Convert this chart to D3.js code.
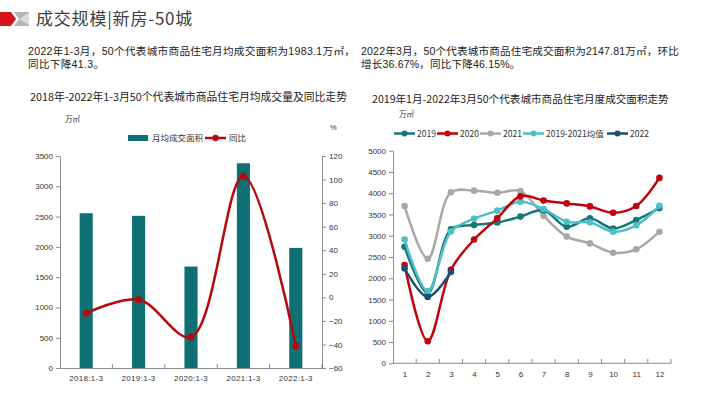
<!DOCTYPE html>
<html>
  <head>
    <meta charset="utf-8">
    <title>成交规模|新房-50城</title>
    <style>
    body{
      margin: 0;
      background-color: #fff;
    }
    svg text{
      font-family: "Liberation Sans", "Noto Sans CJK SC", sans-serif;
      fill: #333;
    }
    .cjk{
      font-family: "Noto Sans CJK SC", "Liberation Sans", sans-serif;
    }
    </style>
    <script src="https://cdn.jsdelivr.net/npm/d3@7"></script>
  </head>
  <body>
    <div id="container"></div>
    <script>
    //page size
    const width = 710,
          height = 399;

    //left chart: monthly average area (万㎡) and yoy (%)
    var periods = ["2018:1-3", "2019:1-3", "2020:1-3", "2021:1-3", "2022:1-3"];
    var avgArea = [2555, 2512, 1675, 3380, 1983.1];
    var yoy = [-13.6, -1.9, -33.7, 102.8, -41.3];
    var leftTicks = [0, 500, 1000, 1500, 2000, 2500, 3000, 3500];
    var rightTicks = [-60, -40, -20, 0, 20, 40, 60, 80, 100, 120];

    //right chart: monthly area by year (万㎡)
    var months = [1, 2, 3, 4, 5, 6, 7, 8, 9, 10, 11, 12];
    var s2019 = [2740, 1650, 3150, 3250, 3310, 3450, 3600, 3210, 3410, 3170, 3370, 3650];
    var s2020 = [2310, 520, 2200, 2910, 3410, 3930, 3830, 3760, 3690, 3540, 3700, 4360];
    var s2021 = [3700, 2460, 4020, 4060, 4010, 4050, 3470, 2980, 2820, 2600, 2680, 3095];
    var sAvg = [2910, 1700, 3100, 3400, 3590, 3800, 3630, 3330, 3315, 3095, 3245, 3705];
    var s2022 = [2230, 1560, 2147.81];
    var monthTicks = [0, 500, 1000, 1500, 2000, 2500, 3000, 3500, 4000, 4500, 5000];

    var svg = d3.select("#container")
      .append("svg")
      .attr("width", width)
      .attr("height", height);

    //header mark
    svg.append("polygon")
      .attr("points", "0,12 11,12 16,19 11,26 0,26")
      .attr("fill", "#d7141a");
    svg.append("polygon")
      .attr("points", "14,12 29,12 29,26 14,26 19,19")
      .attr("fill", "#b5b5b5");
    svg.append("polygon")
      .attr("points", "19,19 29,13 29,25")
      .attr("fill", "#dcdcdc");

    svg.append("text").attr("class", "cjk")
      .attr("x", 36).attr("y", 25)
      .style("font-size", "17px").style("fill", "#404040")
      .style("letter-spacing", "0.8px")
      .text("成交规模|新房-50城");

    //paragraphs, two lines each in one text element
    function para(x, y, lines, spacing){
      var t = svg.append("text")
        .attr("x", x).attr("y", y)
        .style("font-size", "10.6px").style("fill", "#222")
        .style("letter-spacing", spacing);
      lines.forEach(function(str, i){
        t.append("tspan").attr("x", x).attr("dy", i === 0 ? 0 : 13).text(str);
      });
    }
    para(28, 55, ["2022年1-3月，50个代表城市商品住宅月均成交面积为1983.1万㎡，", "同比下降41.3。"], "0.3px");
    para(361, 55, ["2022年3月，50个代表城市商品住宅成交面积为2147.81万㎡，环比", "增长36.67%，同比下降46.15%。"], "0.15px");

    //chart titles
    svg.append("text").attr("class", "cjk")
      .attr("x", 30).attr("y", 101)
      .style("font-size", "10.8px").style("fill", "#222")
      .text("2018年-2022年1-3月50个代表城市商品住宅月均成交量及同比走势");
    svg.append("text").attr("class", "cjk")
      .attr("x", 372).attr("y", 103)
      .style("font-size", "10.6px").style("fill", "#222")
      .text("2019年1月-2022年3月50个代表城市商品住宅月度成交面积走势");

    // ---------- left chart ----------
    var x1 = d3.scaleBand().domain(periods).range([60, 322])
      .paddingInner(0.75).paddingOuter(0.375);
    var yL = d3.scaleLinear().domain([0, 3500]).range([368, 156]);
    var yR = d3.scaleLinear().domain([-60, 120]).range([368, 156]);

    var left = svg.append("g");

    function styleAxis(g){
      g.selectAll("path, line").attr("stroke", "#8c8c8c");
      g.selectAll("text").style("font-size", "8px").style("fill", "#333");
    }

    left.append("g").attr("transform", "translate(60,0)")
      .call(d3.axisLeft(yL).tickValues(leftTicks).tickFormat(d3.format("d"))
        .tickSize(4).tickSizeOuter(0).tickPadding(3))
      .call(styleAxis);
    left.append("g").attr("transform", "translate(322,0)")
      .call(d3.axisRight(yR).tickValues(rightTicks).tickFormat(d3.format("d"))
        .tickSize(4).tickSizeOuter(0).tickPadding(3))
      .call(styleAxis);
    left.append("g").attr("transform", "translate(0,368)")
      .call(d3.axisBottom(x1).tickSize(0).tickSizeOuter(0).tickPadding(7))
      .call(styleAxis)
      .call(function(g){ g.selectAll("text").style("letter-spacing", "0.3px"); });

    //between-category ticks
    var bounds1 = periods.map(function(d){ return x1(d) - x1.step() * 0.375; });
    bounds1.push(322);
    left.selectAll(".btick").data(bounds1.slice(1)).enter()
      .append("line")
      .attr("x1", function(d){ return d; }).attr("x2", function(d){ return d; })
      .attr("y1", 368).attr("y2", 364)
      .attr("stroke", "#8c8c8c");

    left.selectAll("rect.bar").data(avgArea).enter()
      .append("rect").attr("class", "bar")
      .attr("x", function(d, i){ return x1(periods[i]); })
      .attr("y", function(d){ return yL(d); })
      .attr("width", x1.bandwidth())
      .attr("height", function(d){ return 368 - yL(d); })
      .attr("fill", "#0e6f75");

    var yoyLine = d3.line()
      .x(function(d, i){ return x1(periods[i]) + x1.bandwidth() / 2; })
      .y(function(d){ return yR(d); })
      .curve(d3.curveCatmullRom.alpha(0.5));

    left.append("path").datum(yoy)
      .attr("d", yoyLine)
      .attr("fill", "none")
      .attr("stroke", "#b40a0f")
      .attr("stroke-width", 2.5);
    left.selectAll("circle.yoy").data(yoy).enter()
      .append("circle").attr("class", "yoy")
      .attr("cx", function(d, i){ return x1(periods[i]) + x1.bandwidth() / 2; })
      .attr("cy", function(d){ return yR(d); })
      .attr("r", 3.5)
      .attr("fill", "#b40a0f");

    //units and legend
    left.append("text").attr("class", "cjk").attr("x", 65).attr("y", 122)
      .style("font-size", "7.5px").text("万㎡");
    left.append("text").attr("x", 330).attr("y", 130)
      .style("font-size", "7.5px").text("%");
    left.append("rect").attr("x", 128).attr("y", 135)
      .attr("width", 20).attr("height", 6).attr("fill", "#0e6f75");
    left.append("text").attr("class", "cjk").attr("x", 152).attr("y", 141)
      .style("font-size", "8.5px").text("月均成交面积");
    left.append("line").attr("x1", 205).attr("x2", 226).attr("y1", 138).attr("y2", 138)
      .attr("stroke", "#b40a0f").attr("stroke-width", 2.5);
    left.append("circle").attr("cx", 215.5).attr("cy", 138).attr("r", 3.2).attr("fill", "#b40a0f");
    left.append("text").attr("class", "cjk").attr("x", 229).attr("y", 141)
      .style("font-size", "8.5px").text("同比");

    // ---------- right chart ----------
    var x2 = d3.scalePoint().domain(months).range([393, 671]).padding(0.5);
    var y2 = d3.scaleLinear().domain([0, 5000]).range([363.3, 150.7]);

    var right = svg.append("g");

    right.append("g").attr("transform", "translate(393,0)")
      .call(d3.axisLeft(y2).tickValues(monthTicks).tickFormat(d3.format("d"))
        .tickSize(4).tickSizeOuter(0).tickPadding(3))
      .call(styleAxis);
    right.append("g").attr("transform", "translate(0,363.3)")
      .call(d3.axisBottom(x2).tickSize(0).tickSizeOuter(0).tickPadding(8))
      .call(function(g){
        styleAxis(g);
        g.select(".domain").attr("d", "M393,0H671");
      });

    var bounds2 = months.map(function(d){ return x2(d) + x2.step() / 2; });
    right.selectAll(".btick").data(bounds2).enter()
      .append("line")
      .attr("x1", function(d){ return d; }).attr("x2", function(d){ return d; })
      .attr("y1", 363.3).attr("y2", 359)
      .attr("stroke", "#8c8c8c");

    var series = [
      {name: "2021", values: s2021, color: "#a8a8a8"},
      {name: "2019", values: s2019, color: "#16787b"},
      {name: "2019-2021均值", values: sAvg, color: "#4dbfc6"},
      {name: "2020", values: s2020, color: "#c0000b"},
      {name: "2022", values: s2022, color: "#1c4e72"}
    ];

    var monthLine = d3.line()
      .x(function(d, i){ return x2(months[i]); })
      .y(function(d){ return y2(d); })
      .curve(d3.curveCatmullRom.alpha(0.5));

    series.forEach(function(s){
      var g = right.append("g");
      g.append("path").datum(s.values)
        .attr("d", monthLine)
        .attr("fill", "none")
        .attr("stroke", s.color)
        .attr("stroke-width", 2.5);
      g.selectAll("circle").data(s.values).enter()
        .append("circle")
        .attr("cx", function(d, i){ return x2(months[i]); })
        .attr("cy", function(d){ return y2(d); })
        .attr("r", 3.3)
        .attr("fill", s.color);
    });

    //units and legend
    right.append("text").attr("class", "cjk").attr("x", 399).attr("y", 117)
      .style("font-size", "7.5px").text("万㎡");

    var legendItems = [
      {name: "2019", color: "#16787b", x: 394},
      {name: "2020", color: "#c0000b", x: 437},
      {name: "2021", color: "#a8a8a8", x: 480},
      {name: "2019-2021均值", color: "#4dbfc6", x: 523},
      {name: "2022", color: "#1c4e72", x: 607}
    ];
    var leg = right.selectAll("g.leg").data(legendItems).enter()
      .append("g").attr("class", "leg")
      .attr("transform", function(d){ return "translate(" + d.x + ",133.5)"; });
    leg.append("line").attr("x1", 0).attr("x2", 21)
      .attr("stroke", function(d){ return d.color; }).attr("stroke-width", 2.5);
    leg.append("circle").attr("cx", 10.5).attr("r", 3)
      .attr("fill", function(d){ return d.color; });
    leg.append("text").attr("class", "cjk").attr("x", 23).attr("y", 3)
      .style("font-size", "8.5px").text(function(d){ return d.name; });
    </script>
  </body>
</html>
